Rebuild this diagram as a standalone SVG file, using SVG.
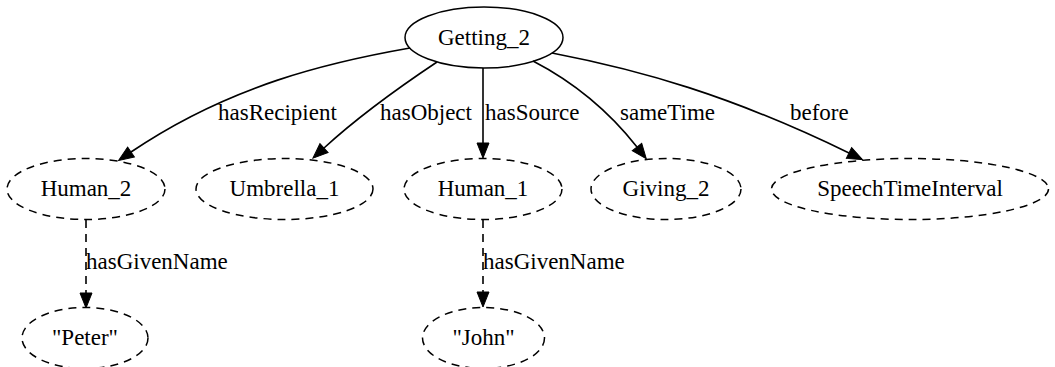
<svg xmlns="http://www.w3.org/2000/svg" width="1055" height="367" viewBox="0 0 1055 367" font-family="Liberation Serif, serif" font-size="23">
  <style>
    text { font-family: 'Liberation Serif', serif; font-size: 23px; fill: #000; }
    .node text { text-anchor: middle; }
    .node ellipse { fill: none; stroke: #000; stroke-width: 1.5; }
    .node.dashed ellipse { stroke-dasharray: 8 6; }
    .edge path { fill: none; stroke: #000; stroke-width: 1.6; }
    .edge.dashed path { stroke-dasharray: 8 6; }
  </style>
  <defs>
    <marker id="arrow" markerUnits="userSpaceOnUse" markerWidth="16" markerHeight="13" refX="0" refY="6" orient="auto" overflow="visible">
      <path d="M0,0 L15,6 L0,12 Z" fill="#000" stroke="#000" stroke-width="1" stroke-dasharray="none"/>
    </marker>
  </defs>
  <rect width="1055" height="367" fill="#fff"/>

  <!-- nodes -->
  <g id="Getting_2" class="node">
    <ellipse cx="484" cy="37.5" rx="79" ry="30.5"/>
    <text x="484" y="45">Getting_2</text>
  </g>
  <g id="Human_2" class="node dashed">
    <ellipse cx="86" cy="189" rx="79" ry="30.5"/>
    <text x="86" y="196">Human_2</text>
  </g>
  <g id="Umbrella_1" class="node dashed">
    <ellipse cx="284.5" cy="189" rx="88.5" ry="30.5"/>
    <text x="284.5" y="196">Umbrella_1</text>
  </g>
  <g id="Human_1" class="node dashed">
    <ellipse cx="483" cy="189" rx="79" ry="30.5"/>
    <text x="483" y="196">Human_1</text>
  </g>
  <g id="Giving_2" class="node dashed">
    <ellipse cx="666" cy="189" rx="75" ry="30.5"/>
    <text x="666" y="196">Giving_2</text>
  </g>
  <g id="SpeechTimeInterval" class="node dashed">
    <ellipse cx="910" cy="189" rx="138.5" ry="30.5"/>
    <text x="910" y="196">SpeechTimeInterval</text>
  </g>
  <g id="Peter" class="node dashed">
    <ellipse cx="85" cy="338" rx="63" ry="30.5"/>
    <text x="85" y="345">"Peter"</text>
  </g>
  <g id="John" class="node dashed">
    <ellipse cx="483.5" cy="338" rx="61" ry="30.5"/>
    <text x="483.5" y="345">"John"</text>
  </g>

  <!-- connectors -->
  <g id="edges">
    <g class="edge">
      <path d="M410,48 C330,62 230,85 131,152" marker-end="url(#arrow)"/>
      <text x="218" y="120">hasRecipient</text>
    </g>
    <g class="edge">
      <path d="M437,62 C410,80 360,115 324,148" marker-end="url(#arrow)"/>
      <text x="380" y="120">hasObject</text>
    </g>
    <g class="edge">
      <path d="M483,68 L483,143" marker-end="url(#arrow)"/>
      <text x="485" y="120">hasSource</text>
    </g>
    <g class="edge">
      <path d="M533,61 C560,75 600,100 637,147" marker-end="url(#arrow)"/>
      <text x="620" y="120">sameTime</text>
    </g>
    <g class="edge">
      <path d="M552,53 C640,70 730,95 849,153" marker-end="url(#arrow)"/>
      <text x="790" y="120">before</text>
    </g>
    <g class="edge dashed">
      <path d="M86,220 L86,293" marker-end="url(#arrow)"/>
      <text x="86" y="269">hasGivenName</text>
    </g>
    <g class="edge dashed">
      <path d="M483,220 L483,292" marker-end="url(#arrow)"/>
      <text x="483" y="269">hasGivenName</text>
    </g>
  </g>
</svg>
